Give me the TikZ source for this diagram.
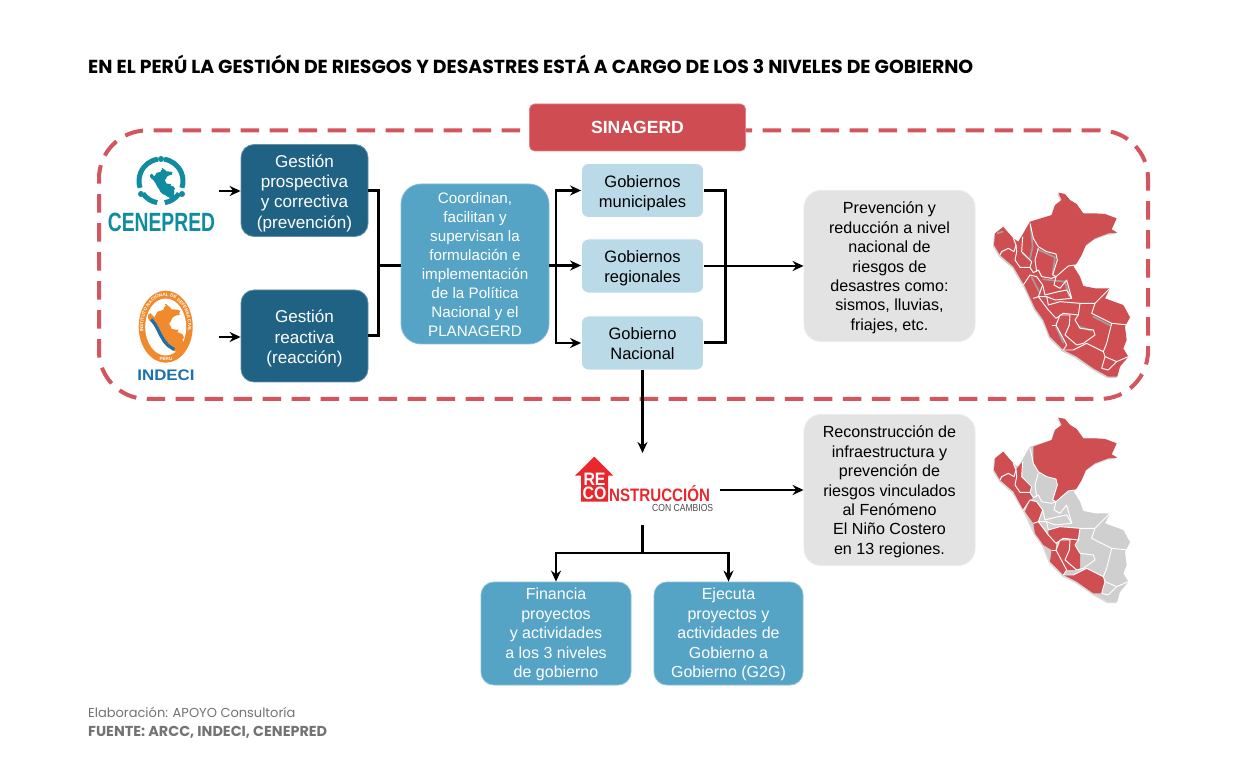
\documentclass[tikz,border=0pt]{standalone}
\usepackage{fontspec}
\usepackage{graphicx}
\setmainfont{Liberation Sans}
\newfontfamily\gotham{Poppins}
\usetikzlibrary{arrows.meta,decorations.text}
\definecolor{dashred}{HTML}{D3565E}
\definecolor{sinared}{HTML}{CF4D52}
\definecolor{darkblue}{HTML}{1F6283}
\definecolor{midblue}{HTML}{55A3C5}
\definecolor{lightblue}{HTML}{BBDAE8}
\definecolor{softgray}{HTML}{E3E3E3}
\definecolor{mapred}{HTML}{CF4E52}
\definecolor{mapgray}{HTML}{CFCFCF}
\definecolor{hilite}{HTML}{A89C9C}
\definecolor{teal}{HTML}{0F8C9F}
\definecolor{indblue}{HTML}{1B70AE}
\definecolor{indorange}{HTML}{F08A2C}
\definecolor{recred}{HTML}{E9272D}
\newcommand{\fs}[2]{\fontsize{#1pt}{#2pt}\selectfont}
\newcommand{\dn}[1]{\rule{0pt}{#1pt}}
\def\peruoutline{(235,38) -- (255,42) -- (270,60) -- (290,72) -- (310,100) -- (345,100) -- (375,102) -- (410,115) -- (395,148) -- (412,158) -- (385,160) -- (345,175) -- (318,195) -- (305,225) -- (290,250) -- (280,258) -- (300,290) -- (310,318) -- (345,325) -- (390,325) -- (375,355) -- (410,368) -- (430,375) -- (450,412) -- (435,440) -- (440,480) -- (430,505) -- (445,530) -- (420,560) -- (412,590) -- (385,590) -- (340,565) -- (290,530) -- (250,510) -- (210,470) -- (190,420) -- (165,385) -- (135,320) -- (100,260) -- (60,225) -- (42,195) -- (45,160) -- (70,140) -- (78,150) -- (100,175) -- (115,185) -- (130,160) -- (150,125) -- (215,105) -- (225,75) -- (245,60) -- cycle}
\newcommand{\mapborders}{%
  \draw[mapline] (150,130) -- (160,175) -- (175,200) -- (200,215) -- (228,222) -- (232,240) -- (218,285) -- (228,290) -- (265,258) -- (285,255);
  \draw[mapline] (100,175) -- (108,195) -- (102,215) -- (85,205) -- (65,215) -- (60,225);
  \draw[mapline] (108,195) -- (110,215) -- (105,240) -- (120,262) -- (150,262);
  \draw[mapline] (128,170) -- (125,215) -- (155,245) -- (150,262) -- (160,278) -- (175,270) -- (185,290) -- (215,295) -- (228,290);
  \draw[mapline] (175,205) -- (165,240) -- (170,275);
  \draw[mapline] (130,315) -- (150,285) -- (170,290) -- (188,315) -- (175,350) -- (160,355);
  \draw[mapline] (188,315) -- (195,345) -- (235,335) -- (260,330) -- (275,355) -- (225,360) -- (200,350);
  \draw[mapline] (228,290) -- (222,315) -- (240,325) -- (260,300) -- (275,355);
  \draw[mapline] (175,350) -- (200,350) -- (205,375) -- (240,365) -- (300,370) -- (295,405) -- (250,400) -- (228,415) -- (205,390) -- (175,350);
  \draw[mapline] (300,370) -- (345,370) -- (390,325);
  \draw[mapline] (345,370) -- (335,400) -- (395,430) -- (380,490) -- (370,515) -- (320,490) -- (280,510) -- (250,510);
  \draw[mapline] (395,430) -- (445,435);
  \draw[mapline] (295,405) -- (285,420) -- (300,445) -- (340,450) -- (345,465) -- (310,490) -- (290,495) -- (255,465) -- (268,435) -- (270,405) -- (240,405) -- (228,435) -- (260,495) -- (250,510);
  \draw[mapline] (215,435) -- (228,435);
  \draw[mapline] (370,515) -- (375,530) -- (365,565);
  \draw[mapline] (375,530) -- (410,545) -- (385,570) -- (365,565);
  \draw[mapline] (410,545) -- (445,530);
}
\tikzset{
  box/.style={rounded corners=13pt,align=center,inner sep=0pt,font=\fs{17.1}{20.4}},
  darkbox/.style={box,fill=darkblue,draw=darkblue!70!white,line width=.8pt,text=white,minimum width=127pt,minimum height=92pt},
  midbox/.style={box,fill=midblue,draw=midblue!70!white,line width=.8pt,text=white,font=\fs{15.2}{19}},
  finbox/.style={midbox,font=\fs{16}{19.5},minimum height=103pt,rounded corners=13pt},
  lightbox/.style={box,rounded corners=7pt,fill=lightblue,draw=white,line width=.8pt,text=black,font=\fs{16.5}{20},minimum width=122pt,minimum height=54pt},
  graybox/.style={box,rounded corners=17pt,fill=softgray,draw=white!92!black,line width=.8pt,text=black,font=\fs{16.1}{19.45},minimum width=171pt,minimum height=151pt},
  conn/.style={draw=black,line width=3pt},
  arr/.style={draw=black,line width=2.2pt,-{Stealth[length=11pt,width=10pt]}},
  mapline/.style={draw=white,line width=.95pt,line join=round},
  hi/.style={draw=hilite,line width=1.7pt,line cap=round,line join=round},
  lbl/.style={inner sep=0pt,anchor=west},
  mapunit/.style={x=.3333pt,y=-.3333pt},
}
\begin{document}
\begin{tikzpicture}[x=1pt,y=-1pt]
\useasboundingbox (0,0) rectangle (1240,783);
\fill[white] (0,0) rectangle (1240,783);

% title
\node[lbl] (title) at (88,64.5) {\gotham\bfseries\fs{18.85}{21}EN EL PERÚ LA GESTIÓN DE RIESGOS Y DESASTRES ESTÁ A CARGO DE LOS 3 NIVELES DE GOBIERNO};

% frame
\node[draw=dashred,line width=4pt,dash pattern=on 18.5pt off 10.5pt,rounded corners=48pt,minimum width=1049pt,minimum height=268.5pt,inner sep=0pt] (frame) at (623.5,264.7) {};
\node[box,rounded corners=5pt,fill=sinared,draw=sinared!70!white,line width=.8pt,text=white,font=\bfseries\fs{17.6}{20},minimum width=216pt,minimum height=47pt] (sina) at (637.5,127.5) {SINAGERD};

% boxes
\node[darkbox] (gp) at (304.5,190.5) {\dn{18}Gestión\\prospectiva\\y correctiva\\(prevención)};
\node[darkbox] (gr) at (304.5,336) {\dn{18}Gestión\\reactiva\\(reacción)};
\node[midbox,minimum width=148pt,minimum height=160pt,rounded corners=20pt] (coord) at (475,264) {\dn{12}Coordinan,\\facilitan y\\supervisan la\\formulación e\\implementación\\de la Política\\Nacional y el\\PLANAGERD};
\node[lightbox] (gm) at (642.5,190.5) {\dn{17}Gobiernos\\municipales};
\node[lightbox] (greg) at (642.5,266) {\dn{16}Gobiernos\\regionales};
\node[lightbox] (gn) at (642.5,343) {\dn{13}Gobierno\\Nacional};
\node[graybox] (prev) at (889.5,266) {\dn{15.5}Prevención y\\reducción a nivel\\nacional de\\riesgos de\\desastres como:\\sismos, lluvias,\\friajes, etc.};
\node[graybox] (rec) at (889.5,490) {\dn{15.5}Reconstrucción de\\infraestructura y\\prevención de\\riesgos vinculados\\al Fenómeno\\El Niño Costero\\en 13 regiones.};
\node[finbox,minimum width=150pt] (fin) at (556,633.5) {\dn{14}Financia\\proyectos\\y actividades\\a los 3 niveles\\de gobierno};
\node[finbox,minimum width=149pt] (eje) at (728.5,633.5) {\dn{14}Ejecuta\\proyectos y\\actividades de\\Gobierno a\\Gobierno (G2G)};

% connector points
\coordinate (cenout) at (219,191);
\coordinate (indout) at (219,337);
\coordinate (jl) at (378,265.5);
\coordinate (jr) at (556,265.5);
\coordinate (jm) at (725,266);
\coordinate (rectop) at (642.5,453);
\coordinate (recbot) at (642.5,525);
\coordinate (recout) at (720,490);
\coordinate (jb) at (642.5,553);

% connectors
\draw[arr] (cenout) -- (gp.west |- cenout);
\draw[arr] (indout) -- (gr.west |- indout);
\draw[conn] (gp.east) -| (jl);
\draw[conn] (gr.east) -| (jl);
\draw[conn] (jl) -- (coord.west |- jl);
\draw[arr] (coord.east |- jr) -- (greg.west |- jr);
\draw[arr] (jr) |- (gm.west);
\draw[arr] (jr) |- (gn.west);
\draw[conn] (gm.east) -| (jm);
\draw[conn] (gn.east) -| (jm);
\draw[arr] (greg.east) -- (prev.west);
\draw[arr] (gn.south) -- (rectop);
\draw[arr] (recout) -- (rec.west);
\draw[conn] (recbot) -- (jb);
\draw[arr] (jb) -| (fin.north);
\draw[arr] (jb) -| (eje.north);

% CENEPRED logo
\draw[teal,line width=5pt] (161,181) ++(82:22pt) arc[start angle=82,end angle=-18,radius=22pt];
\draw[teal,line width=5pt] (161,181) ++(98:22pt) arc[start angle=98,end angle=198,radius=22pt];
\draw[teal,line width=5pt] (161,181) ++(-35:22pt) arc[start angle=-35,end angle=-80,radius=22pt];
\draw[teal,line width=5pt] (161,181) ++(215:22pt) arc[start angle=215,end angle=260,radius=22pt];
\fill[teal] (161,159) circle[radius=3pt];
\fill[teal] (141,194) circle[radius=3pt];
\fill[teal] (182,194) circle[radius=3pt];
\begin{scope}[shift={(147.5,166)},x=.061pt,y=-.055pt]
  \fill[teal] \peruoutline;
\end{scope}
\node[inner sep=0pt,text=teal] (cenlogo) at (161.5,222.5) {\scalebox{.73}[1]{\bfseries\fs{26.4}{28}CENEPRED}};

% INDECI logo
\fill[indorange] (165.7,326.7) ellipse[x radius=27pt,y radius=36pt];
\fill[white] (165.7,327) ellipse[x radius=20.5pt,y radius=28.5pt];
\path[postaction={decorate,decoration={text along path,text align=center,text={|\bfseries\fs{4.6}{5}\color{white}|INSTITUTO NACIONAL DE DEFENSA CIVIL}}}] (165.7,326.7) ++(215:22.5pt and 30.5pt) arc[start angle=215,end angle=-35,x radius=22.5pt,y radius=30.5pt];
\node[inner sep=0pt,text=white] (perutxt) at (166,358.5) {\bfseries\fs{4.6}{5}PERU};
\begin{scope}[shift={(144.3,300.6)},x=.088pt,y=-.089pt]
  \fill[indorange] \peruoutline;
  \draw[indblue,line width=3.2pt,line join=round] (80,210) -- (125,270) -- (160,335) -- (190,395) -- (225,450) -- (270,505) -- (340,550);
\end{scope}
\node[inner sep=0pt,text=indblue] (indlogo) at (166,375.5) {\scalebox{1.1}[1]{\bfseries\fs{15.3}{17}INDECI}};

% RECONSTRUCCION logo
\fill[recred] (594.3,456.7) -- (613.3,475.7) -- (608,475.7) -- (608,501.7) -- (581,501.7) -- (581,475.7) -- (575,475.7) -- cycle;
\node[inner sep=0pt,text=white] (logore) at (594.5,479.5) {\scalebox{.88}[1]{\bfseries\fs{18}{20}RE}};
\node[inner sep=0pt,text=white] (logoco) at (594.5,493.5) {\scalebox{.88}[1]{\bfseries\fs{18}{20}CO}};
\node[lbl,text=recred] (logons) at (609,493.5) {\scalebox{.84}[1]{\bfseries\fs{18}{20}NSTRUCCIÓN}};
\node[lbl,text=black!70] (logocc) at (652,507.5) {\scalebox{.84}[1]{\fs{10.2}{11}CON CAMBIOS}};

% map 1
\begin{scope}[shift={(979,181.5)},mapunit]
  \fill[black!18] \peruoutline;
\end{scope}
\begin{scope}[shift={(980,180)},mapunit]
  \fill[mapred] \peruoutline;
  \draw[hi] (152,140) -- (158,200) -- (150,235);
  \draw[hi] (172,208) -- (225,232) -- (218,280);
  \draw[hi] (128,220) -- (152,242);
  \draw[hi] (155,292) -- (180,340);
  \draw[hi] (190,298) -- (255,305) -- (268,350);
  \draw[hi] (340,410) -- (390,436);
  \draw[hi] (298,440) -- (335,452);
  \draw[hi] (228,440) -- (250,488);
  \draw[hi] (52,160) -- (68,155);
  \mapborders
\end{scope}

% map 2
\begin{scope}[shift={(979,406.5)},mapunit]
  \fill[black!15] \peruoutline;
\end{scope}
\begin{scope}[shift={(980,405)},mapunit]
  \fill[mapgray] \peruoutline;
  \fill[mapred] (235,38) -- (255,42) -- (270,60) -- (290,72) -- (310,100) -- (345,100) -- (375,102) -- (410,115) -- (395,148) -- (412,158) -- (385,160) -- (345,175) -- (318,195) -- (305,225) -- (290,250) -- (280,258) -- (265,258) -- (228,290) -- (218,285) -- (232,240) -- (228,222) -- (200,215) -- (175,200) -- (160,175) -- (160,125) -- (215,105) -- (225,75) -- (245,60) -- cycle;
  \fill[mapred] (70,140) -- (78,150) -- (100,175) -- (108,195) -- (110,215) -- (105,240) -- (120,262) -- (100,260) -- (60,225) -- (42,195) -- (45,160) -- cycle;
  \fill[mapred] (115,185) -- (128,170) -- (125,215) -- (155,245) -- (150,262) -- (120,262) -- (105,240) -- (110,215) -- (108,195) -- cycle;
  \fill[mapred] (100,260) -- (120,262) -- (150,262) -- (160,278) -- (150,285) -- (130,315) -- cycle;
  \fill[mapred] (135,320) -- (150,285) -- (170,290) -- (188,315) -- (175,350) -- (160,355) -- cycle;
  \fill[mapred] (160,355) -- (175,350) -- (205,390) -- (228,415) -- (228,435) -- (215,435) -- (190,420) -- (165,385) -- cycle;
  \fill[mapred] (205,375) -- (240,365) -- (300,370) -- (295,405) -- (250,400) -- (228,415) -- (205,390) -- cycle;
  \fill[mapred] (240,405) -- (270,405) -- (268,435) -- (255,465) -- (290,495) -- (260,495) -- (228,435) -- cycle;
  \fill[mapred] (215,435) -- (228,435) -- (260,495) -- (250,510) -- (210,470) -- cycle;
  \fill[mapred] (250,510) -- (280,510) -- (320,490) -- (370,515) -- (375,530) -- (365,565) -- (340,565) -- (290,530) -- cycle;
  \fill[mapred] (295,405) -- (285,420) -- (300,445) -- (300,490) -- (290,495) -- (255,465) -- (268,435) -- (270,405) -- cycle;
  \mapborders
\end{scope}

% footer
\node[lbl,text=black!55] (elab) at (88,712.5) {\gotham\fs{13}{15}Elaboración: APOYO Consultoría};
\node[lbl,text=black!55] (fuente) at (88,732.5) {\gotham\bfseries\fs{14.4}{16}FUENTE: ARCC, INDECI, CENEPRED};
\end{tikzpicture}
\end{document}
